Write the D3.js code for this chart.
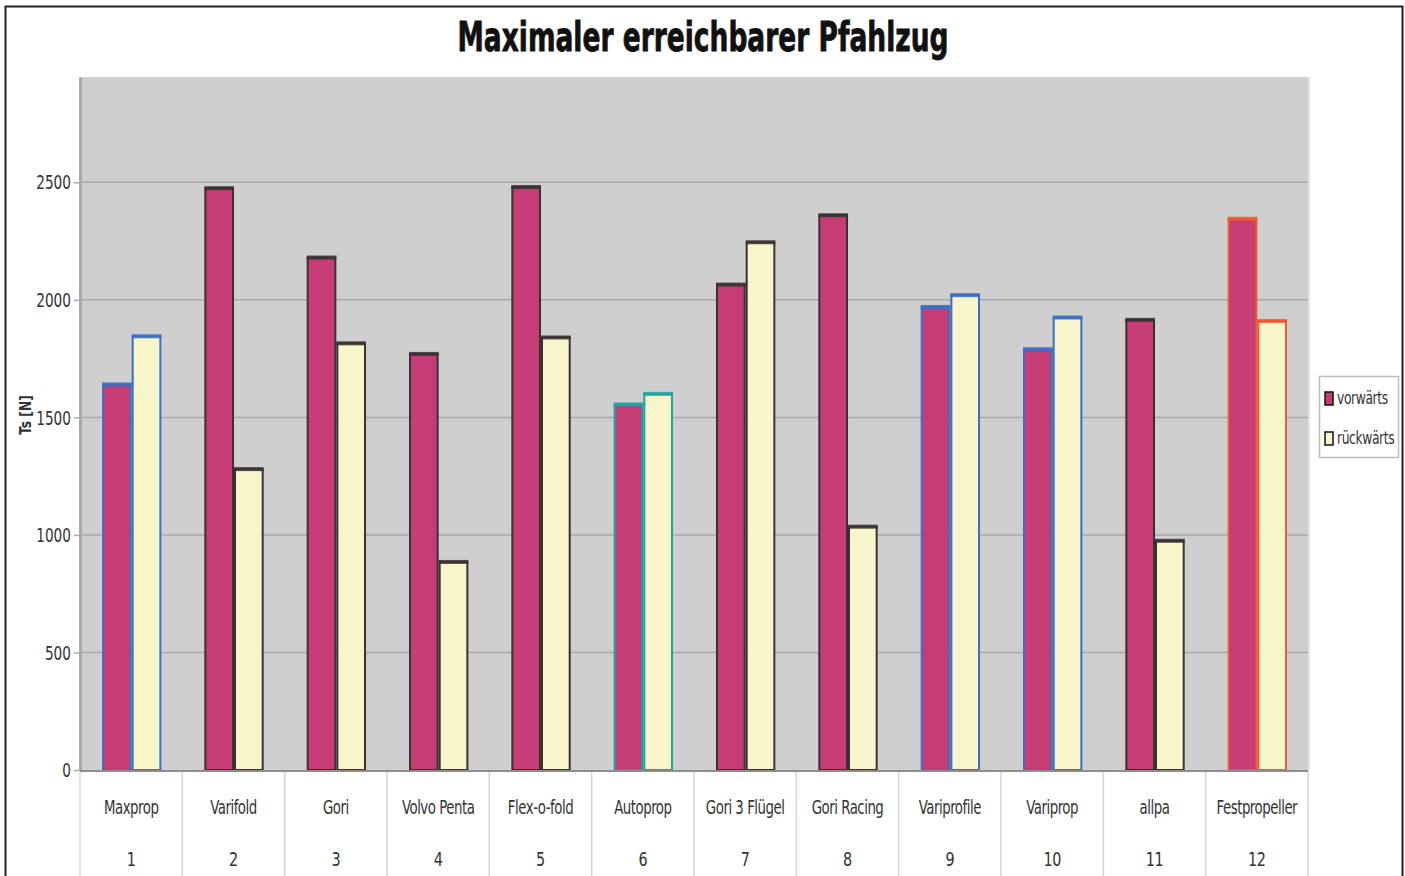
<!DOCTYPE html>
<html><head><meta charset="utf-8">
<script src="https://cdn.jsdelivr.net/npm/d3@7"></script>
<style>
html,body{margin:0;padding:0;background:#fff;}
svg{display:block;}
</style></head>
<body>
<script>
// ---- data ----
const categories = ["Maxprop","Varifold","Gori","Volvo Penta","Flex-o-fold","Autoprop","Gori 3 Flügel","Gori Racing","Variprofile","Variprop","allpa","Festpropeller"];
const numbers = ["1","2","3","4","5","6","7","8","9","10","11","12"];
const seriesNames = ["vorwärts","rückwärts"];
const vorwaerts = [1640,2475,2180,1770,2480,1555,2065,2360,1970,1790,1915,2345];
const rueckwaerts = [1845,1280,1815,885,1840,1600,2245,1035,2020,1925,975,1910];
const yTicks = [0,500,1000,1500,2000,2500];
const title = "Maximaler erreichbarer Pfahlzug";
const yLabel = "Ts [N]";

// ---- styles ----
const fillColors = ["#c53d74","#f7f5c9"];
const edgeColors = ["#3b6fc6","#3a3232","#3a3232","#3a3232","#3a3232","#1ea3a3","#3a3232","#3a3232","#3b6fc6","#3b6fc6","#3a3232","#ef5a32"];

const W = 1405, H = 876;
const M = {left:80, right:1308, top:77, bottom:770};
const svg = d3.select("body").append("svg").attr("width",W).attr("height",H);
const font = "'DejaVu Sans Condensed','Liberation Sans',sans-serif";
const SX = 0.8;

// outer frame
svg.append("rect").attr("x",5.5).attr("y",6.5).attr("width",1397).attr("height",H+10)
  .attr("fill","#fff").attr("stroke","#222").attr("stroke-width",2);

// title
svg.append("text").attr("x",703).attr("y",51).attr("text-anchor","middle")
  .attr("font-family","'DejaVu Sans Condensed',sans-serif")
  .attr("font-weight","bold").attr("font-size",41).attr("fill","#111")
  .attr("stroke","#111").attr("stroke-width",0.8)
  .attr("textLength",491).attr("lengthAdjust","spacingAndGlyphs").text(title);

const x0 = d3.scaleBand().domain(categories).range([M.left,M.right]).padding(0);
const x1 = d3.scaleBand().domain(seriesNames).range([x0.bandwidth()*0.215, x0.bandwidth()*0.795]).padding(0);
const y = d3.scaleLinear().domain([0,2948]).range([M.bottom,M.top]);

// plot background
svg.append("rect").attr("x",M.left).attr("y",M.top).attr("width",M.right-M.left).attr("height",M.bottom-M.top)
  .attr("fill","#cfcfcf");
svg.append("line").attr("x1",M.right+1).attr("x2",M.right+1).attr("y1",M.top).attr("y2",M.bottom)
  .attr("stroke","#e2e2e2").attr("stroke-width",2);

// gridlines
svg.append("g").selectAll("line").data(yTicks.filter(d=>d>0)).join("line")
  .attr("x1",M.left).attr("x2",M.right).attr("y1",d=>y(d)).attr("y2",d=>y(d))
  .attr("stroke","#a9a9a9").attr("stroke-width",1.5);

// y axis
const yAxis = d3.axisLeft(y).tickValues(yTicks).tickSizeInner(6).tickSizeOuter(0).tickPadding(3).tickFormat(d3.format("d"));
const gy = svg.append("g").attr("transform",`translate(${M.left},0)`).call(yAxis);
gy.select(".domain").attr("stroke","#a9a9a9").attr("stroke-width",3);
gy.selectAll(".tick line").attr("stroke","#a9a9a9").attr("stroke-width",1.5);
gy.selectAll(".tick text").each(function(){
  const t = d3.select(this);
  const xx = +t.attr("x");
  t.attr("x",null).attr("transform",`translate(${xx},0) scale(${SX},1)`);
}).attr("font-family",font).attr("font-size",19).attr("fill","#333").attr("dy","0.35em");

// y label
svg.append("text").attr("transform","translate(31,415) rotate(-90) scale(0.85,1)").attr("text-anchor","middle")
  .attr("font-family",font).attr("font-weight","bold").attr("font-size",16).attr("fill","#333").text(yLabel);

// category separators below axis
svg.append("g").selectAll("line").data(categories.concat(["__end"])).join("line")
  .attr("x1",(d,i)=>i<categories.length?x0(d):M.right).attr("x2",(d,i)=>i<categories.length?x0(d):M.right)
  .attr("y1",M.bottom).attr("y2",H)
  .attr("stroke","#d4d4d4").attr("stroke-width",1.5);

// x axis labels
const xa = svg.append("g");
xa.selectAll("text.cat").data(categories).join("text").attr("class","cat")
  .attr("transform",d=>`translate(${x0(d)+x0.bandwidth()/2},814) scale(0.78,1)`).attr("text-anchor","middle")
  .attr("font-family",font).attr("font-size",19).attr("letter-spacing",-0.6).attr("fill","#333").text(d=>d);
xa.selectAll("text.num").data(numbers).join("text").attr("class","num")
  .attr("transform",(d,i)=>`translate(${x0(categories[i])+x0.bandwidth()/2},866) scale(0.8,1)`).attr("text-anchor","middle")
  .attr("font-family",font).attr("font-size",20).attr("letter-spacing",-0.5).attr("fill","#333").text(d=>d);

// bars
const rows = categories.map((c,i)=>({cat:c, i, vals:[vorwaerts[i], rueckwaerts[i]]}));
const groups = svg.append("g").selectAll("g").data(rows).join("g")
  .attr("transform",d=>`translate(${x0(d.cat)},0)`);
groups.each(function(r){
  const g = d3.select(this);
  r.vals.forEach((v,k)=>{
    const s = seriesNames[k];
    g.append("rect").attr("x",x1(s)+1).attr("y",y(v)).attr("width",x1.bandwidth()-2).attr("height",y(0)-y(v))
      .attr("fill",fillColors[k]).attr("stroke",edgeColors[r.i]).attr("stroke-width",2);
    g.append("rect").attr("x",x1(s)).attr("y",y(v)-2).attr("width",x1.bandwidth()).attr("height",4)
      .attr("fill",edgeColors[r.i]).attr("opacity",0.85);
  });
});

// x axis line
svg.append("line").attr("x1",M.left).attr("x2",M.right).attr("y1",M.bottom+1).attr("y2",M.bottom+1)
  .attr("stroke","#8d8d8d").attr("stroke-width",2);

// legend
const lg = svg.append("g");
lg.append("rect").attr("x",1319.5).attr("y",376.5).attr("width",79).attr("height",81)
  .attr("fill","#fff").attr("stroke","#bdbdbd").attr("stroke-width",1.5);
seriesNames.forEach((s,k)=>{
  const yy = 398 + k*40;
  lg.append("rect").attr("x",1325).attr("y",yy-6).attr("width",8).attr("height",13)
    .attr("fill",fillColors[k]).attr("stroke","#111").attr("stroke-width",1.5);
  lg.append("text").attr("transform",`translate(1337,${yy+6}) scale(0.76,1)`).attr("font-family",font).attr("font-size",18)
    .attr("letter-spacing",-0.5).attr("fill","#333").text(s);
});
</script>
</body></html>
